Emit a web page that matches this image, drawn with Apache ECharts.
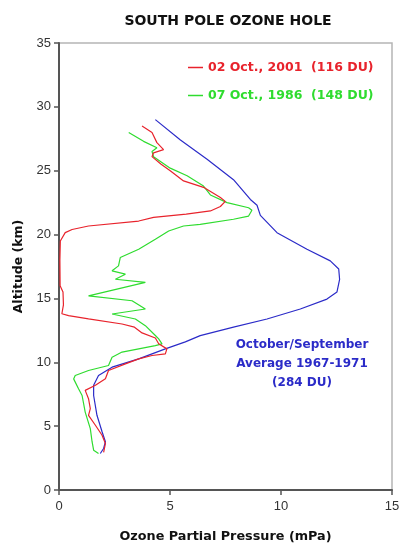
<!DOCTYPE html>
<html>
<head>
<meta charset="utf-8">
<script src="https://cdn.jsdelivr.net/npm/echarts@6/dist/echarts.min.js"></script>
<style>
html,body{margin:0;padding:0;background:#fff;}
#chart{width:403px;height:548px;}
</style>
</head>
<body>
<div id="chart"></div>
<script>
// [pressure mPa, altitude km]
var red2001 = [[3.74,28.5],[4.19,28.0],[4.41,27.2],[4.71,26.65],[4.26,26.4],[4.19,26.1],[4.6,25.5],[5.01,25.0],[5.61,24.2],[6.51,23.7],[7.27,22.9],[7.49,22.6],[7.27,22.2],[6.82,21.85],[5.73,21.6],[4.26,21.35],[3.59,21.06],[1.33,20.67],[0.59,20.4],[0.28,20.15],[0.06,19.5],[0.04,18],[0.05,16.0],[0.18,15.5],[0.2,14.5],[0.13,13.8],[0.43,13.65],[1.33,13.4],[2.84,13.0],[3.4,12.75],[3.74,12.3],[4.34,11.9],[4.49,11.45],[4.86,11.05],[4.79,10.66],[4.19,10.53],[3.59,10.27],[2.99,9.88],[2.23,9.36],[2.09,8.71],[1.64,8.2],[1.18,7.8],[1.33,7.15],[1.41,6.37],[1.33,5.85],[1.64,5.07],[1.94,4.29],[2.09,3.64],[2.01,2.94]];
var green1986 = [[3.14,28.0],[3.81,27.3],[4.41,26.8],[4.19,26.5],[4.26,26.1],[5.01,25.2],[5.77,24.6],[6.51,23.8],[6.82,23.1],[7.57,22.5],[8.54,22.1],[8.69,21.9],[8.54,21.45],[7.86,21.2],[6.36,20.8],[5.61,20.67],[4.94,20.28],[4.34,19.63],[3.59,18.85],[2.76,18.2],[2.68,17.55],[2.39,17.16],[2.99,16.9],[2.54,16.5],[3.89,16.26],[1.33,15.2],[3.29,14.82],[3.89,14.17],[2.39,13.78],[3.44,13.39],[3.89,12.87],[4.34,12.1],[4.49,11.83],[4.64,11.44],[4.34,11.3],[2.84,10.8],[2.39,10.4],[2.23,9.75],[1.33,9.36],[0.73,8.97],[0.66,8.7],[0.88,7.93],[1.04,7.4],[1.18,6.1],[1.41,4.8],[1.49,3.78],[1.56,3.12],[1.78,2.86]];
var blueAvg = [[4.34,29.0],[5.47,27.4],[6.67,25.9],[7.86,24.3],[8.62,22.75],[8.92,22.3],[9.07,21.5],[9.82,20.15],[11.17,18.85],[12.22,17.94],[12.6,17.3],[12.64,16.5],[12.52,15.5],[12.07,14.95],[10.87,14.17],[9.37,13.39],[7.86,12.75],[6.36,12.09],[5.69,11.6],[4.79,11.05],[3.59,10.27],[2.39,9.62],[1.78,8.97],[1.56,8.2],[1.56,7.4],[1.71,5.85],[1.94,4.56],[2.09,3.78],[2.01,3.25],[1.86,2.86]];
var seriesNames = ['02 Oct., 2001  (116 DU)', '07 Oct., 1986  (148 DU)', 'October/September Average 1967-1971 (284 DU)'];
var annotationLines = ['October/September', 'Average 1967-1971', '(284 DU)'];
var titleText = 'SOUTH POLE OZONE HOLE';
var xName = 'Ozone Partial Pressure (mPa)';
var yName = 'Altitude (km)';

var RED = '#e8232c', GREEN = '#2fdc2f', BLUE = '#2b2bc8';
var chart = echarts.init(document.getElementById('chart'), null, {renderer: 'canvas'});
chart.setOption({
  backgroundColor: '#fff',
  animation: false,
  title: {
    text: titleText, left: 223, top: 9, textAlign: 'center',
    textStyle: {fontFamily: 'DejaVu Sans', fontWeight: 'bold', fontSize: 14, color: '#111'}
  },
  legend: {
    orient: 'vertical', left: 183, top: 56, itemGap: 15, itemWidth: 15, itemHeight: 1.5, icon: 'rect',
    data: [
      {name: seriesNames[0], textStyle: {color: RED}},
      {name: seriesNames[1], textStyle: {color: GREEN}}
    ],
    textStyle: {fontFamily: 'DejaVu Sans', fontWeight: 'bold', fontSize: 12.5}
  },
  grid: {left: 59, right: 11, top: 43, bottom: 56, show: true, borderColor: '#b5b5b5', borderWidth: 1.5},
  xAxis: {
    type: 'value', min: 0, max: 15, interval: 5,
    name: xName, nameLocation: 'middle', nameGap: 40,
    nameTextStyle: {fontFamily: 'DejaVu Sans', fontWeight: 'bold', fontSize: 12.8, color: '#111'},
    axisLine: {show: true, lineStyle: {color: '#555', width: 2}},
    axisTick: {show: true, length: 5, lineStyle: {color: '#555', width: 1.5}},
    axisLabel: {fontFamily: 'Liberation Sans', fontSize: 13, color: '#333', margin: 10},
    splitLine: {show: false}
  },
  yAxis: {
    type: 'value', min: 0, max: 35, interval: 5,
    name: yName, nameLocation: 'middle', nameGap: 32,
    nameTextStyle: {fontFamily: 'DejaVu Sans', fontWeight: 'bold', fontSize: 12.5, color: '#111'},
    axisLine: {show: true, lineStyle: {color: '#555', width: 2}},
    axisTick: {show: true, length: 5, lineStyle: {color: '#555', width: 1.5}},
    axisLabel: {fontFamily: 'Liberation Sans', fontSize: 13, color: '#333', margin: 8},
    splitLine: {show: false}
  },
  series: [
    {name: seriesNames[2], type: 'line', data: blueAvg, showSymbol: false, symbol: 'none', lineStyle: {color: BLUE, width: 1.2}, itemStyle: {color: BLUE}},
    {name: seriesNames[1], type: 'line', data: green1986, showSymbol: false, symbol: 'none', lineStyle: {color: GREEN, width: 1.2}, itemStyle: {color: GREEN}},
    {name: seriesNames[0], type: 'line', data: red2001, showSymbol: false, symbol: 'none', lineStyle: {color: RED, width: 1.2}, itemStyle: {color: RED}}
  ],
  graphic: [{
    type: 'text', x: 302, y: 335,
    style: {
      text: annotationLines.join('\n'), align: 'center', verticalAlign: 'top', fill: BLUE,
      font: 'bold 12px "DejaVu Sans"', lineHeight: 19
    }
  }]
});
</script>
</body>
</html>
